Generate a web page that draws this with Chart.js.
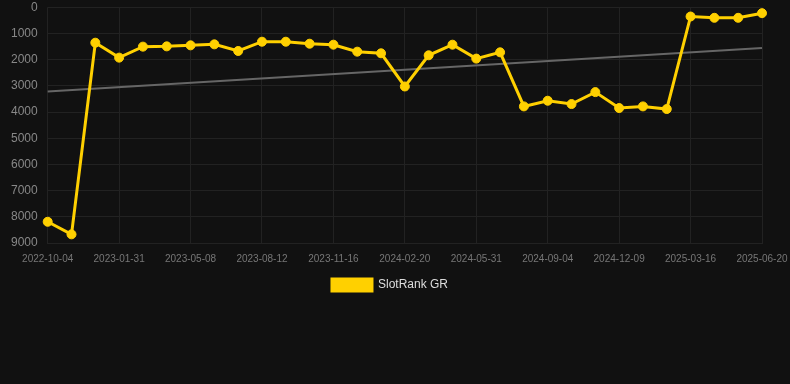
<!DOCTYPE html>
<html>
<head>
<meta charset="utf-8">
<script src="https://cdn.jsdelivr.net/npm/chart.js@4"></script>
<style>
  html, body { margin: 0; padding: 0; background: #111111; }
  #wrap { width: 790px; height: 384px; }
</style>
</head>
<body>
<div id="wrap"><canvas id="rankChart"></canvas></div>
<script>
const dates = [
  "2022-10-04", "2022-11-13", "2022-12-22", "2023-01-31", "2023-03-05", "2023-04-06",
  "2023-05-08", "2023-06-09", "2023-07-11", "2023-08-12", "2023-09-13", "2023-10-15",
  "2023-11-16", "2023-12-18", "2024-01-19", "2024-02-20", "2024-03-24", "2024-04-27",
  "2024-05-31", "2024-07-02", "2024-08-03", "2024-09-04", "2024-10-06", "2024-11-07",
  "2024-12-09", "2025-01-10", "2025-02-12", "2025-03-16", "2025-04-17", "2025-05-19",
  "2025-06-20"
];
const rankGR = [
  8190, 8670, 1355, 1925, 1505, 1495, 1456, 1418, 1671, 1317, 1317, 1393,
  1431, 1697, 1760, 3026, 1836, 1431, 1962, 1722, 3786, 3570, 3697, 3241,
  3849, 3786, 3887, 355, 405, 405, 228
];
const trendStart = 3217;
const trendEnd = 1557;
const yTicks = [0, 1000, 2000, 3000, 4000, 5000, 6000, 7000, 8000, 9000];

const trend = dates.map((d, i) => i === 0 ? trendStart : (i === dates.length - 1 ? trendEnd : null));

const ctx = document.getElementById("rankChart").getContext("2d");
new Chart(ctx, {
  type: "line",
  data: {
    labels: dates,
    datasets: [
      {
        label: "SlotRank GR",
        data: rankGR,
        borderColor: "#ffd000",
        backgroundColor: "#ffd000",
        borderWidth: 3,
        pointRadius: 4.5,
        pointBorderWidth: 1,
        pointHoverRadius: 5,
        pointBackgroundColor: "#ffd000",
        pointBorderColor: "#ffd000",
        tension: 0
      },
      {
        label: "trend",
        data: trend,
        borderColor: "#666666",
        borderWidth: 2,
        pointRadius: 0,
        spanGaps: true,
        fill: false
      }
    ]
  },
  options: {
    responsive: true,
    maintainAspectRatio: false,
    animation: false,
    layout: { padding: { left: 0, right: 10, top: 0, bottom: 83 } },
    plugins: {
      legend: {
        position: "bottom",
        labels: {
          color: "#dddddd",
          padding: 14,
          font: { size: 12, family: "Liberation Sans, Arial, sans-serif" },
          boxWidth: 40,
          boxHeight: 12,
          filter: item => item.text !== "trend"
        }
      },
      tooltip: { enabled: false }
    },
    scales: {
      x: {
        grid: { color: "#222222", drawTicks: true, tickLength: 10, tickColor: "transparent" },
        border: { color: "#222222" },
        afterFit: axis => { axis.paddingRight = 28; },
        ticks: {
          color: "#777777",
          padding: 0,
          maxRotation: 0,
          autoSkip: false,
          font: { size: 10, family: "Liberation Sans, Arial, sans-serif" },
          callback: function(val, i) { return i % 3 === 0 ? dates[i] : null; }
        }
      },
      y: {
        reverse: true,
        min: 0,
        max: 9000,
        afterBuildTicks: axis => { axis.ticks = yTicks.map(v => ({ value: v })); },
        afterFit: axis => { axis.width += 11; },
        grid: { color: "#222222", drawTicks: true, tickLength: 10, tickColor: "transparent" },
        border: { display: false },
        ticks: {
          color: "#888888",
          padding: 0,
          font: { size: 12, family: "Liberation Sans, Arial, sans-serif" },
          callback: v => String(v)
        }
      }
    }
  }
});
</script>
</body>
</html>
